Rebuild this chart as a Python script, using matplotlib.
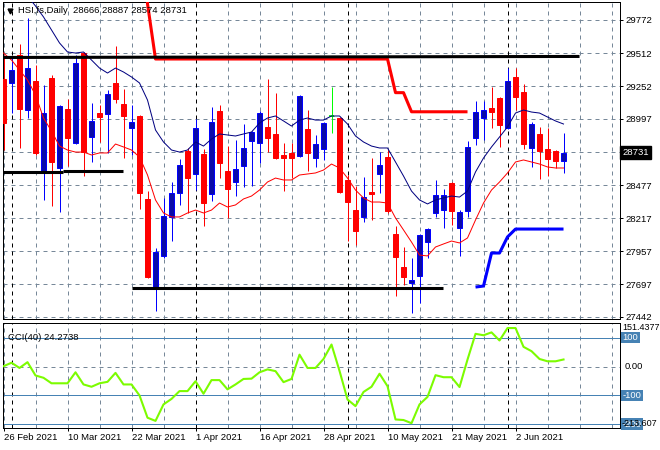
import numpy as np
import matplotlib
matplotlib.use("Agg")
import matplotlib.pyplot as plt

plt.rcParams['font.family'] = ['Liberation Sans', 'DejaVu Sans']
plt.rcParams['font.size'] = 6.8

# HSI futures daily bars, 26 Feb 2021 .. 10 Jun 2021 (bar index 0..70)
opens = [29309, 29280, 29497, 29066, 29293, 28572, 29317, 28611, 29074, 28807,
         29513, 28854, 29042, 29035, 29278, 29113, 28925, 29019, 28368, 27677,
         27921, 28227, 28415, 28744, 28564, 28721, 28407, 29058, 28587, 28501,
         28627, 28823, 28807, 28933, 28878, 28713, 28729, 28705, 28917, 28689,
         28760, 29019, 29003, 28517, 28281, 28227, 28423, 28564, 28697, 28093,
         27834, 27709, 27764, 28030, 28258, 28281, 28493, 28140, 28274, 28846,
         29003, 29082, 29160, 28925, 29325, 29207, 28768, 28878, 28760, 28744,
         28666]
highs = [29497, 29474, 29584, 29788, 29419, 29262, 29340, 29105, 29152, 29497,
         29520, 29121, 29105, 29223, 29568, 29231, 29105, 29025, 28430, 27983,
         28376, 28501, 28681, 28768, 28995, 28760, 29089, 29105, 28783, 28831,
         28956, 28901, 29058, 29309, 29199, 28807, 28807, 29180, 29066, 28870,
         28972, 29246, 29011, 28556, 28470, 28540, 28689, 28736, 28752, 28156,
         27991, 27905, 28093, 28140, 28517, 28446, 28500, 28281, 28823, 29137,
         29137, 29246, 29165, 29395, 29395, 29270, 28972, 28933, 28925, 28750,
         28887]
lows = [28752, 29042, 28768, 29003, 28713, 28360, 28313, 28266, 28627, 28799,
        28548, 28658, 28815, 28729, 29121, 28689, 28713, 28289, 27748, 27489,
        27905, 28038, 28321, 28258, 28438, 28156, 28352, 28532, 28219, 28391,
        28462, 28470, 28650, 28736, 28685, 28430, 28532, 28698, 28587, 28619,
        28674, 28885, 28415, 28038, 28007, 28187, 28203, 28415, 28258, 27607,
        27693, 27473, 27552, 27905, 28227, 28140, 28164, 27921, 28227, 28791,
        28831, 28925, 28776, 28920, 29066, 28760, 28619, 28525, 28548, 28611,
        28574]
closes = [28964, 29380, 29074, 29395, 28729, 29042, 28658, 29097, 28846, 29435,
          28736, 28980, 29011, 29191, 29152, 29019, 28972, 28415, 27756, 27952,
          28234, 28415, 28634, 28532, 28925, 28336, 28972, 28650, 28446, 28603,
          28768, 28893, 29042, 28846, 28689, 28689, 28689, 29176, 28729, 28799,
          28964, 29019, 28423, 28344, 28117, 28383, 28407, 28634, 28274, 27913,
          27756, 27732, 28085, 28132, 28399, 28399, 28274, 28266, 28776, 29050,
          29066, 29050, 28948, 29293, 29168, 28799, 28956, 28744, 28682, 28666,
          28731]

# thin moving-average style lines
upper_line = [30200, 30120, 30050, 29960, 29882, 29796, 29694, 29592, 29521, 29513,
              29521, 29458, 29395, 29356, 29395, 29364, 29325, 29278, 29144, 28909,
              28815, 28752, 28736, 28752, 28815, 28783, 28838, 28878, 28870, 28862,
              28878, 28893, 28964, 29003, 29019, 28980, 28940, 28987, 29003, 28987,
              28987, 29019, 29019, 28956, 28862, 28815, 28783, 28768, 28768, 28658,
              28548, 28430, 28360, 28329, 28360, 28376, 28391, 28383, 28430, 28580,
              28689, 28776, 28854, 28933, 29042, 29066, 29050, 29042, 29011, 28980,
              28956]
lower_line = [29513, 29458, 29380, 29301, 29184, 29003, 28901, 28783, 28752, 28736,
              28736, 28713, 28729, 28729, 28799, 28776, 28752, 28697, 28556, 28360,
              28258, 28227, 28227, 28258, 28281, 28258, 28281, 28336, 28305, 28321,
              28368, 28391, 28438, 28501, 28532, 28517, 28517, 28556, 28564, 28572,
              28595, 28642, 28611, 28532, 28438, 28376, 28344, 28344, 28336, 28219,
              28125, 28030, 27928, 27921, 27991, 28015, 28038, 28023, 28062, 28203,
              28336, 28438, 28501, 28572, 28658, 28674, 28658, 28642, 28619, 28611,
              28611]

# thick step lines (vertices: bar index, price)
resist_x = [17, 18, 19, 48, 49, 50, 51, 58]
resist_y = [31000, 29900, 29466, 29466, 29202, 29202, 29052, 29052]
support_x = [59, 60, 61, 62, 63, 64, 70]
support_y = [27677, 27685, 27944, 27944, 28070, 28132, 28132]

# black horizontal trend lines: (x0, x1, y0, y1)
trend_lines = [(-0.5, 72.0, 29478, 29486),
               (-0.5, 7.48, 28582, 28582),
               (7.48, 14.98, 28590, 28590),
               (16.02, 54.94, 27672, 27672)]

cci = [1, 13, -5, 15, -31, -39, -58, -58, -58, -20, -62, -70, -58, -53, -22, -62,
       -62, -100, -177, -188, -131, -112, -85, -85, -51, -94, -47, -47, -79, -62,
       -43, -42, -20, -10, -16, -54, -43, 41, -5, -5, 26, 76, -15, -114, -137, -88,
       -70, -25, -68, -183, -185, -196, -131, -105, -30, -37, -37, -71, 24, 113,
       108, 118, 90, 133, 133, 68, 53, 26, 18, 18, 24.27]
cci_levels = [100, -100, -200]
cci_min, cci_max = -213.607, 151.4377

price_ticks = [29772, 29512, 29252, 28997, 28737, 28477, 28217, 27957, 27697, 27442]
price_labels = ["29772", "29512", "29252", "28997", "", "28477", "28217", "27957", "27697", "27442"]
last_price = 28731

date_pos = [0, 8, 16, 24, 32, 40, 48, 56, 64]
date_labels = ["26 Feb 2021", "10 Mar 2021", "22 Mar 2021", "1 Apr 2021", "16 Apr 2021",
               "28 Apr 2021", "10 May 2021", "21 May 2021", "2 Jun 2021"]
separators = [1, 24, 43, 63]

W, H = 660, 450
fig = plt.figure(figsize=(W / 100, H / 100), dpi=100)


def px_axes(x0, y0, x1, y1):
    return fig.add_axes([x0 / W, 1 - y1 / H, (x1 - x0) / W, (y1 - y0) / H])


ax = px_axes(3, 2, 620, 319)
ax2 = px_axes(3, 322.7, 620, 428.3)

GRID = '#778899'
px1 = 0.72  # one pixel in points
xlim = (-0.0625, 77.06)

for a in (ax, ax2):
    a.set_xlim(*xlim)
    for s in a.spines.values():
        s.set_linewidth(px1)
        s.set_color('black')
    for gx in range(0, 78, 4):
        if gx not in separators:
            a.axvline(gx, color=GRID, lw=px1, ls=(0, (4, 4)), zorder=0.5)
    for sx in separators:
        a.axvline(sx, color='black', lw=px1, ls=(0, (4, 4)), zorder=0.6)

# ---- main price panel
ax.set_ylim(27426.3, 29913.2)
for t in price_ticks:
    ax.axhline(t, color=GRID, lw=px1, ls=(0, (4, 4)), zorder=0.5)

x = np.arange(len(closes))
o, h, l, c = (np.array(v, dtype=float) for v in (opens, highs, lows, closes))
wick_col = np.where(c > o, '#0000FF', np.where(c < o, '#FF0000', '#00FF00'))
body_col = np.where(c > o, '#0A0AA8', np.where(c < o, '#FF0000', '#00FF00'))
edge_col = np.where(c > o, '#0000FF', np.where(c < o, '#FF0000', '#00FF00'))
ax.vlines(x, l, h, colors=wick_col, lw=px1, zorder=2)
ax.bar(x, np.abs(c - o), bottom=np.minimum(o, c), width=0.55, color=body_col,
       edgecolor=edge_col, linewidth=px1, zorder=3)
doji = c == o
ax.hlines(o[doji], x[doji] - 0.3, x[doji] + 0.3, colors='#00FF00', lw=1.2, zorder=3)

ax.plot(x, upper_line, color='#000080', lw=px1, zorder=4)
ax.plot(x, lower_line, color='#FF0000', lw=px1, zorder=4)
ax.plot(resist_x, resist_y, color='#FF0000', lw=2.2, zorder=5, solid_capstyle='butt')
ax.plot(support_x, support_y, color='#0000FF', lw=2.2, zorder=5, solid_capstyle='butt')
for x0, x1, y0, y1 in trend_lines:
    ax.plot([x0, x1], [y0, y1], color='black', lw=2.2, zorder=6, solid_capstyle='butt')

ax.yaxis.tick_right()
ax.set_yticks(price_ticks)
ax.set_yticklabels(price_labels)
ax.tick_params(axis='y', length=2.2, width=px1, pad=1.5, labelsize=6.8)
ax.set_xticks([])
ax.text(1.0035, last_price, "28731", transform=ax.get_yaxis_transform(), color='white',
        va='center', ha='left', fontsize=6.8,
        bbox=dict(boxstyle='square,pad=0.2', fc='black', ec='black'), zorder=10, clip_on=False)

ax.plot([0.0115], [0.973], marker='v', color='black', ms=3.5, transform=ax.transAxes, zorder=10)
ax.text(0.0243, 0.973, "HSI,fs,Daily  28666 28887 28574 28731", transform=ax.transAxes,
        va='center', ha='left', fontsize=6.8, color='black', zorder=10)

# ---- CCI panel
ax2.set_ylim(cci_min, cci_max)
ax2.axhline(0, color=GRID, lw=px1, ls=(0, (4, 4)), zorder=0.5)
for lv in cci_levels:
    ax2.axhline(lv, color='#4682B4', lw=px1, zorder=1)
ax2.plot(x, cci, color='#7CFC00', lw=1.5, zorder=4)
ax2.text(0.008, 0.86, "CCI(40) 24.2738", transform=ax2.transAxes, va='center', ha='left',
         fontsize=6.8, zorder=10)

ax2.set_yticks([])
ax2.set_xticks(date_pos)
ax2.set_xticklabels(date_labels)
for lbl in ax2.get_xticklabels():
    lbl.set_horizontalalignment('left')
ax2.tick_params(axis='x', length=2.2, width=px1, pad=1.5, labelsize=6.8)

ytr = ax2.get_yaxis_transform()
ax2.text(1.003, cci_max, "151.4377", transform=ytr, va='top', ha='left', fontsize=6.5, clip_on=False)
ax2.text(1.008, 0, "0.00", transform=ytr, va='center', ha='left', fontsize=6.8, clip_on=False)
for lv in cci_levels:
    ax2.text(1.004, lv, str(lv), transform=ytr, va='center', ha='left', fontsize=6.8,
             color='white', clip_on=False, zorder=9,
             bbox=dict(boxstyle='square,pad=0.15', fc='#4682B4', ec='none'))
ax2.text(1.003, cci_min, "-213.607", transform=ytr, va='bottom', ha='left', fontsize=6.5,
         clip_on=False, zorder=11)

fig.savefig("out.png", dpi=100, facecolor='white')
